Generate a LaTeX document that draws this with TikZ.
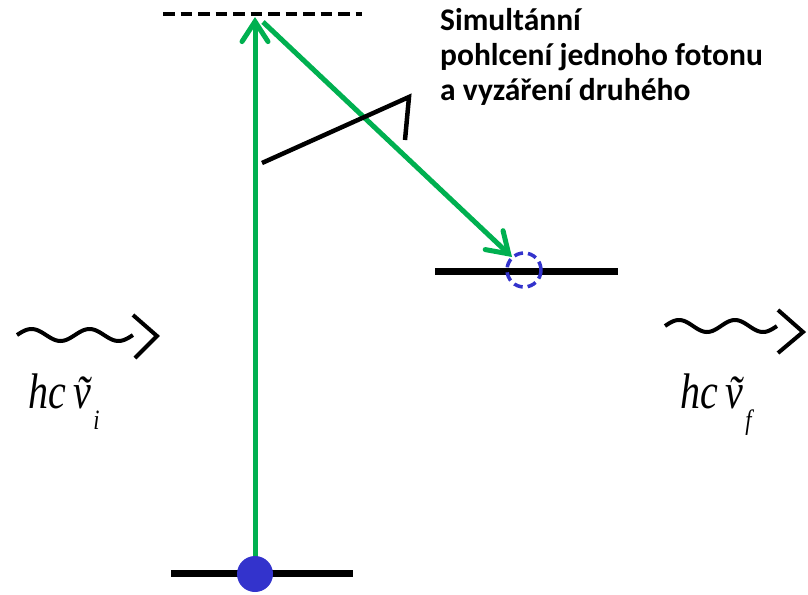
\documentclass[tikz,border=0pt]{standalone}
\usepackage{fontspec}
\setmainfont{Carlito}
\newfontfamily\eqfont{Liberation Serif}
\usepackage{xcolor}
\usepackage{graphicx}
\usetikzlibrary{arrows.meta}
\definecolor{LaserGreen}{HTML}{00B050}
\definecolor{ElecBlue}{HTML}{3333CC}
\newcommand{\wavenum}[1]{\scalebox{0.8}[1]{\eqfont\itshape\fontsize{50}{50}\selectfont
  hc\hspace{9pt}\ooalign{ν\cr\hidewidth\kern3pt\raisebox{-2pt}{˜}\hidewidth\cr}%
  \kern3pt\raisebox{-21pt}{\fontsize{28}{28}\selectfont #1}}}

\begin{document}
\begin{tikzpicture}[x=1pt,y=-1pt,
 level/.style={line width=7pt},
 virtlevel/.style={line width=4pt,dash pattern=on 11.5pt off 6pt},
 photon/.style={line width=5pt,draw=LaserGreen,
   -{Straight Barb[length=20pt,width=26pt,line cap=round]}},
 wave/.style={line width=4pt},
 lbl/.style={anchor=base west,inner sep=0pt}]
\useasboundingbox (0,0) rectangle (808,594);
% levels
\coordinate (g) at (255,574);
\coordinate (v) at (255,17);
\coordinate (e) at (524,270);
\draw[virtlevel] (163,14) -- (362,14);
\draw[level] (171,573) -- (353,573);
\draw[level] (435,271) -- (618,271);
% transitions
\draw[photon] (g) -- (v);
\draw[photon] (263,22) -- (512,257);
\fill[ElecBlue] (g) circle (18);
\draw[ElecBlue,line width=3.5pt,dash pattern=on 9pt off 5pt] (e) circle (17);
% note
\node[anchor=base west,align=left,inner sep=0pt,
  font=\bfseries\fontsize{31.5}{35}\selectfont] (note) at (440,100)
  {Simultánní\\pohlcení jednoho fotonu\\a vyzáření druhého};
\draw[line width=4.5pt] (262,163) -- (409,97) -- (405,140);
% photons in and out
\draw[wave] plot[domain=0:1,samples=60,smooth] ({17+116*\x},{335-6*sin(720*\x)});
\draw[wave] (133,315) -- (157,336) -- (135,358);
\node[lbl] (nui) at (28,408) {\wavenum{i}};
\draw[wave] plot[domain=0:1,samples=60,smooth] ({665+112*\x},{326-6*sin(720*\x)});
\draw[wave] (778,310) -- (803,332) -- (778,353);
\node[lbl] (nuf) at (680,408) {\wavenum{f}};
\end{tikzpicture}
\end{document}
